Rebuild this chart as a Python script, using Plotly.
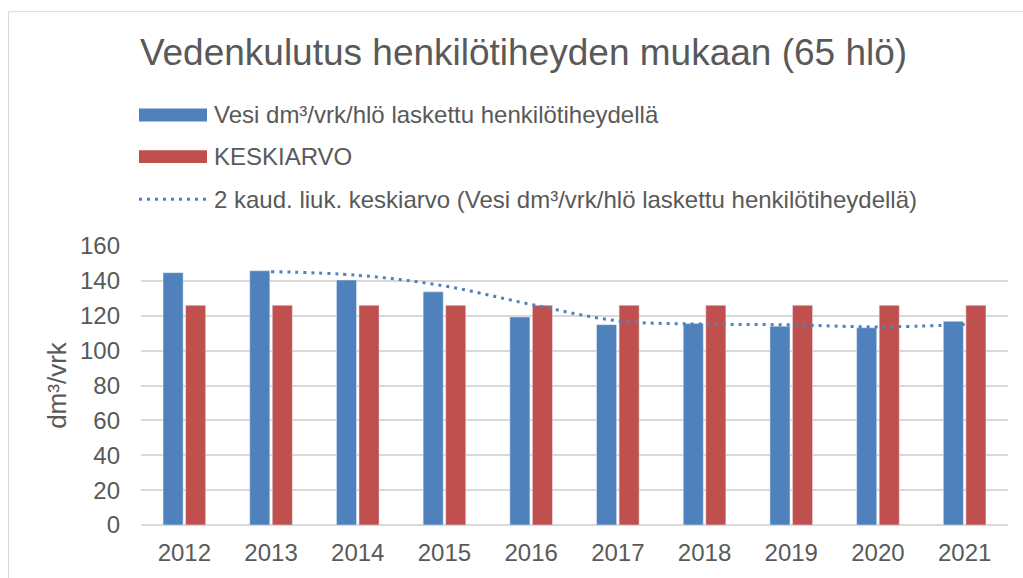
import plotly.graph_objects as go

# data
years = ["2012", "2013", "2014", "2015", "2016", "2017", "2018", "2019", "2020", "2021"]
vesi = [144.7, 145.8, 140.5, 133.7, 119.3, 114.9, 115.5, 114.0, 113.1, 116.8]
keskiarvo = [126, 126, 126, 126, 126, 126, 126, 126, 126, 126]
liuk_ka = [None, 145.3, 143.2, 137.1, 126.5, 117.1, 115.2, 114.8, 113.6, 115.0]

legend_names = [
    "Vesi dm³/vrk/hlö laskettu henkilötiheydellä",
    "KESKIARVO",
    "2 kaud. liuk. keskiarvo (Vesi dm³/vrk/hlö laskettu henkilötiheydellä)",
]

BLUE = "#4F81BD"
RED = "#C0504D"
TXT = "#595959"
GRID = "#D9D9D9"
FONT = "Liberation Sans, Arial, sans-serif"

W, H = 1023, 578
L, R, T, B = 141, 15, 246, 51
pw, ph = W - L - R, H - T - B


def px_x(x):
    return (x - L) / pw


def px_y(y):
    return (H - B - y) / ph


fig = go.Figure()
fig.add_trace(go.Bar(x=years, y=vesi, name=legend_names[0], marker_color=BLUE))
fig.add_trace(go.Bar(x=years, y=keskiarvo, name=legend_names[1], marker_color=RED))
fig.add_trace(go.Scatter(x=years, y=liuk_ka, name=legend_names[2], mode="lines",
                         line=dict(color=BLUE, width=3, dash="3px,5px", shape="spline")))

# legend drawn by hand so the swatches have the wide Excel look
rows = [114, 156, 199]
shapes = [dict(type="rect", xref="paper", yref="paper",
               x0=px_x(8.5), x1=px_x(1100), y0=px_y(700), y1=px_y(10),
               line=dict(color=GRID, width=1), fillcolor="rgba(0,0,0,0)", layer="below")]
for i, c in enumerate([BLUE, RED]):
    shapes.append(dict(type="rect", xref="paper", yref="paper",
                       x0=px_x(139), x1=px_x(207), y0=px_y(rows[i] + 6.5), y1=px_y(rows[i] - 6.5),
                       fillcolor=c, line=dict(width=0)))
shapes.append(dict(type="line", xref="paper", yref="paper",
                   x0=px_x(139), x1=px_x(207), y0=px_y(rows[2]), y1=px_y(rows[2]),
                   line=dict(color=BLUE, width=3, dash="3px,5px")))

annotations = [dict(text=n, xref="paper", yref="paper", x=px_x(212), y=px_y(r),
                    xanchor="left", yanchor="middle", showarrow=False,
                    font=dict(size=24, color=TXT, family=FONT))
               for n, r in zip(legend_names, rows)]

fig.update_layout(
    width=W, height=H,
    margin=dict(l=L, r=R, t=T, b=B),
    paper_bgcolor="white", plot_bgcolor="white",
    font=dict(family=FONT, color=TXT),
    title=dict(text="Vedenkulutus henkilötiheyden mukaan (65 hlö)",
               x=523.5 / W, xref="container", xanchor="center",
               y=1 - 52 / H, yref="container", yanchor="middle",
               font=dict(size=37, color=TXT, family=FONT)),
    showlegend=False,
    barmode="group", bargap=0.48, bargroupgap=0.11,
    shapes=shapes, annotations=annotations,
)
fig.update_xaxes(tickfont=dict(size=24, color=TXT), showline=False, showgrid=False,
                 ticklabelstandoff=11)
fig.update_yaxes(range=[0, 160], dtick=20, gridcolor=GRID, gridwidth=1.5,
                 zeroline=True, zerolinecolor=GRID, zerolinewidth=1.5,
                 tickfont=dict(size=24, color=TXT), ticklabelstandoff=20,
                 title=dict(text="dm³/vrk", font=dict(size=26, color=TXT), standoff=5))

fig.write_html("out.html", config={"displayModeBar": False},
               post_script="document.body.style.margin='0';")
